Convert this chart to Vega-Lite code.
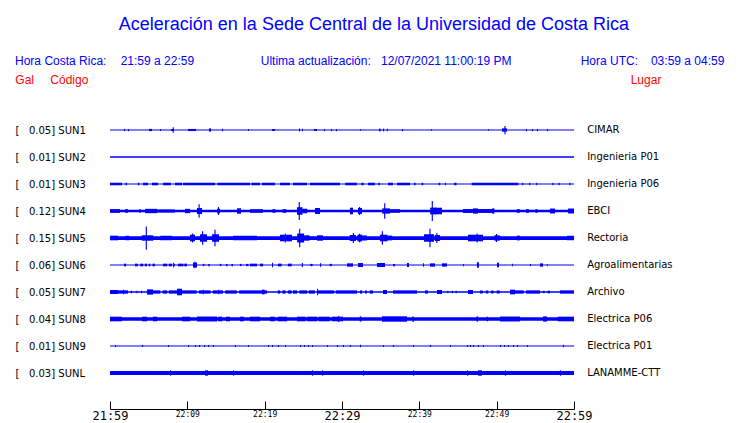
{
"$schema": "https://vega.github.io/schema/vega-lite/v6.json",
"width": 464, "height": 270,
"autosize": "none",
"padding": {"left": 110, "top": 116.5, "right": 166, "bottom": 36.5},
"background": "white",
"config": {"view": {"stroke": null}, "font": "DejaVu Sans"},
"datasets": {
"st": [
{"s":"SUN1","place":"CIMAR"},{"s":"SUN2","place":"Ingenieria P01"},{"s":"SUN3","place":"Ingenieria P06"},{"s":"SUN4","place":"EBCI"},{"s":"SUN5","place":"Rectoria"},{"s":"SUN6","place":"Agroalimentarias"},{"s":"SUN7","place":"Archivo"},{"s":"SUN8","place":"Electrica P06"},{"s":"SUN9","place":"Electrica P01"},{"s":"SUNL","place":"LANAMME-CTT"}
],
"sig": [
{"s":"SUN1","t0":0,"t1":60,"a":0.67},{"s":"SUN1","t0":1.81,"t1":1.95,"a":1.5},{"s":"SUN1","t0":2.33,"t1":2.46,"a":1.5},{"s":"SUN1","t0":5.04,"t1":5.43,"a":1.5},{"s":"SUN1","t0":6.47,"t1":6.6,"a":1.2},{"s":"SUN1","t0":7.89,"t1":8.28,"a":1.3},{"s":"SUN1","t0":8.1,"t1":8.25,"a":3.6},{"s":"SUN1","t0":10.09,"t1":11.12,"a":1.4},{"s":"SUN1","t0":12.8,"t1":13.06,"a":2.2},{"s":"SUN1","t0":14.48,"t1":14.61,"a":1.8},{"s":"SUN1","t0":17.84,"t1":17.97,"a":1.3},{"s":"SUN1","t0":20.95,"t1":21.33,"a":1.3},{"s":"SUN1","t0":24.44,"t1":24.57,"a":2.0},{"s":"SUN1","t0":24.83,"t1":24.95,"a":1.8},{"s":"SUN1","t0":26.38,"t1":26.77,"a":1.3},{"s":"SUN1","t0":27.67,"t1":27.8,"a":1.5},{"s":"SUN1","t0":28.58,"t1":28.71,"a":1.5},{"s":"SUN1","t0":29.22,"t1":29.35,"a":1.5},{"s":"SUN1","t0":32.33,"t1":32.46,"a":1.0},{"s":"SUN1","t0":34.78,"t1":35.0,"a":1.8},{"s":"SUN1","t0":35.3,"t1":35.45,"a":1.8},{"s":"SUN1","t0":35.8,"t1":35.94,"a":1.8},{"s":"SUN1","t0":37.76,"t1":37.89,"a":1.5},{"s":"SUN1","t0":41.51,"t1":41.64,"a":1.0},{"s":"SUN1","t0":48.88,"t1":49.0,"a":1.0},{"s":"SUN1","t0":50.69,"t1":51.33,"a":2.2},{"s":"SUN1","t0":51.0,"t1":51.15,"a":5.5},{"s":"SUN1","t0":53.79,"t1":53.92,"a":1.5},{"s":"SUN1","t0":54.57,"t1":54.7,"a":1.5},{"s":"SUN1","t0":55.21,"t1":55.34,"a":1.5},{"s":"SUN1","t0":56.5,"t1":56.63,"a":1.5},
{"s":"SUN2","t0":0,"t1":60,"a":0.87},
{"s":"SUN3","t0":0,"t1":60,"a":0.67},{"s":"SUN3","t0":0,"t1":1.55,"a":1.7},{"s":"SUN3","t0":2.0,"t1":2.2,"a":1.7},{"s":"SUN3","t0":3.6,"t1":3.8,"a":1.7},{"s":"SUN3","t0":4.27,"t1":4.91,"a":1.7},{"s":"SUN3","t0":5.43,"t1":6.21,"a":1.7},{"s":"SUN3","t0":6.85,"t1":7.89,"a":1.7},{"s":"SUN3","t0":8.4,"t1":9.31,"a":1.7},{"s":"SUN3","t0":9.44,"t1":13.6,"a":1.7},{"s":"SUN3","t0":13.9,"t1":18.1,"a":1.7},{"s":"SUN3","t0":18.3,"t1":19.4,"a":1.7},{"s":"SUN3","t0":19.65,"t1":21.33,"a":1.7},{"s":"SUN3","t0":21.98,"t1":23.27,"a":1.7},{"s":"SUN3","t0":23.66,"t1":25.47,"a":1.7},{"s":"SUN3","t0":25.86,"t1":29.74,"a":1.7},{"s":"SUN3","t0":30.4,"t1":31.94,"a":1.7},{"s":"SUN3","t0":32.5,"t1":32.8,"a":1.7},{"s":"SUN3","t0":33.36,"t1":34.26,"a":1.7},{"s":"SUN3","t0":34.7,"t1":34.9,"a":1.7},{"s":"SUN3","t0":35.94,"t1":36.59,"a":1.7},{"s":"SUN3","t0":37.11,"t1":38.79,"a":1.7},{"s":"SUN3","t0":39.3,"t1":39.5,"a":1.7},{"s":"SUN3","t0":40.3,"t1":40.5,"a":1.7},{"s":"SUN3","t0":42.5,"t1":42.7,"a":1.7},{"s":"SUN3","t0":43.3,"t1":43.45,"a":1.7},{"s":"SUN3","t0":44.5,"t1":44.8,"a":1.7},{"s":"SUN3","t0":46.77,"t1":52.8,"a":1.7},{"s":"SUN3","t0":53.3,"t1":53.45,"a":1.7},{"s":"SUN3","t0":54.2,"t1":54.35,"a":1.7},{"s":"SUN3","t0":55.1,"t1":55.25,"a":1.7},{"s":"SUN3","t0":57.2,"t1":57.35,"a":1.7},{"s":"SUN3","t0":58.0,"t1":58.15,"a":1.7},{"s":"SUN3","t0":59.4,"t1":59.55,"a":1.7},
{"s":"SUN4","t0":0,"t1":60,"a":1.8},{"s":"SUN4","t0":0,"t1":1.29,"a":2.5},{"s":"SUN4","t0":1.94,"t1":2.33,"a":2.4},{"s":"SUN4","t0":3.75,"t1":4.0,"a":2.4},{"s":"SUN4","t0":4.53,"t1":6.08,"a":2.9},{"s":"SUN4","t0":6.08,"t1":8.4,"a":2.1},{"s":"SUN4","t0":9.7,"t1":10.34,"a":2.9},{"s":"SUN4","t0":11.25,"t1":11.9,"a":4},{"s":"SUN4","t0":11.45,"t1":11.6,"a":8.9},{"s":"SUN4","t0":13.84,"t1":14.22,"a":3},{"s":"SUN4","t0":13.95,"t1":14.1,"a":5.3},{"s":"SUN4","t0":16.42,"t1":16.94,"a":3.6},{"s":"SUN4","t0":18.1,"t1":19.78,"a":2.4},{"s":"SUN4","t0":21.0,"t1":21.4,"a":2.4},{"s":"SUN4","t0":22.3,"t1":22.8,"a":2.4},{"s":"SUN4","t0":24.18,"t1":24.9,"a":5},{"s":"SUN4","t0":24.4,"t1":24.55,"a":12},{"s":"SUN4","t0":24.9,"t1":25.5,"a":3},{"s":"SUN4","t0":26.51,"t1":27.15,"a":4},{"s":"SUN4","t0":31.03,"t1":31.42,"a":4.4},{"s":"SUN4","t0":32.07,"t1":32.58,"a":4},{"s":"SUN4","t0":32.2,"t1":32.35,"a":5.3},{"s":"SUN4","t0":35.2,"t1":36.2,"a":3.5},{"s":"SUN4","t0":35.45,"t1":35.6,"a":10.3},{"s":"SUN4","t0":36.2,"t1":37.5,"a":2.4},{"s":"SUN4","t0":41.4,"t1":42.2,"a":4.5},{"s":"SUN4","t0":41.6,"t1":41.75,"a":13.3},{"s":"SUN4","t0":42.02,"t1":42.93,"a":4.4},{"s":"SUN4","t0":45.64,"t1":49.52,"a":2.6},{"s":"SUN4","t0":46.94,"t1":47.58,"a":3.5},{"s":"SUN4","t0":49.4,"t1":49.7,"a":3.5},{"s":"SUN4","t0":52.6,"t1":53.0,"a":2.4},{"s":"SUN4","t0":53.8,"t1":54.2,"a":2.4},{"s":"SUN4","t0":55.0,"t1":55.3,"a":2.4},{"s":"SUN4","t0":56.89,"t1":57.54,"a":3.3},{"s":"SUN4","t0":59.22,"t1":60,"a":3.3},
{"s":"SUN5","t0":0,"t1":60,"a":2.5},{"s":"SUN5","t0":0,"t1":1.03,"a":3.1},{"s":"SUN5","t0":2.0,"t1":2.5,"a":3},{"s":"SUN5","t0":4.1,"t1":5.6,"a":3.6},{"s":"SUN5","t0":4.62,"t1":4.77,"a":15.5},{"s":"SUN5","t0":6.5,"t1":8.0,"a":3},{"s":"SUN5","t0":10.34,"t1":10.99,"a":4.4},{"s":"SUN5","t0":10.6,"t1":10.75,"a":6},{"s":"SUN5","t0":11.64,"t1":12.54,"a":5},{"s":"SUN5","t0":11.9,"t1":12.05,"a":8.9},{"s":"SUN5","t0":13.2,"t1":14.1,"a":5},{"s":"SUN5","t0":13.5,"t1":13.65,"a":11},{"s":"SUN5","t0":15.9,"t1":18.1,"a":3},{"s":"SUN5","t0":18.1,"t1":19.0,"a":3},{"s":"SUN5","t0":21.98,"t1":23.53,"a":4.4},{"s":"SUN5","t0":22.6,"t1":22.75,"a":6},{"s":"SUN5","t0":24.2,"t1":25.1,"a":6},{"s":"SUN5","t0":24.45,"t1":24.6,"a":12.4},{"s":"SUN5","t0":25.1,"t1":25.8,"a":3.6},{"s":"SUN5","t0":26.77,"t1":27.54,"a":3.6},{"s":"SUN5","t0":31.0,"t1":31.8,"a":4},{"s":"SUN5","t0":31.4,"t1":31.55,"a":6.7},{"s":"SUN5","t0":32.0,"t1":32.6,"a":4.5},{"s":"SUN5","t0":32.2,"t1":32.35,"a":5.8},{"s":"SUN5","t0":32.6,"t1":33.2,"a":3.4},{"s":"SUN5","t0":34.9,"t1":35.9,"a":4.4},{"s":"SUN5","t0":35.15,"t1":35.3,"a":8.9},{"s":"SUN5","t0":35.9,"t1":36.5,"a":3.2},{"s":"SUN5","t0":40.6,"t1":41.9,"a":5},{"s":"SUN5","t0":41.3,"t1":41.45,"a":12.4},{"s":"SUN5","t0":42.0,"t1":42.67,"a":4},{"s":"SUN5","t0":42.2,"t1":42.35,"a":6.7},{"s":"SUN5","t0":46.29,"t1":48.23,"a":4.4},{"s":"SUN5","t0":47.4,"t1":47.55,"a":6},{"s":"SUN5","t0":49.7,"t1":50.4,"a":3.6},{"s":"SUN5","t0":49.9,"t1":50.05,"a":5.3},{"s":"SUN5","t0":52.6,"t1":53.0,"a":3.2},{"s":"SUN5","t0":59.1,"t1":60,"a":3},
{"s":"SUN6","t0":0,"t1":60,"a":0.67},{"s":"SUN6","t0":1.81,"t1":2.07,"a":1.8},{"s":"SUN6","t0":3.23,"t1":3.6,"a":1.8},{"s":"SUN6","t0":3.9,"t1":4.3,"a":1.8},{"s":"SUN6","t0":4.5,"t1":4.78,"a":1.8},{"s":"SUN6","t0":5.0,"t1":5.2,"a":1.8},{"s":"SUN6","t0":5.5,"t1":5.8,"a":1.8},{"s":"SUN6","t0":6.85,"t1":7.4,"a":1.8},{"s":"SUN6","t0":7.6,"t1":8.0,"a":1.8},{"s":"SUN6","t0":8.15,"t1":8.28,"a":3.1},{"s":"SUN6","t0":8.28,"t1":8.4,"a":1.8},{"s":"SUN6","t0":8.79,"t1":9.5,"a":1.8},{"s":"SUN6","t0":9.6,"t1":9.96,"a":1.8},{"s":"SUN6","t0":10.73,"t1":11.25,"a":3.3},{"s":"SUN6","t0":10.9,"t1":11.05,"a":4.4},{"s":"SUN6","t0":12.0,"t1":12.2,"a":1.5},{"s":"SUN6","t0":12.7,"t1":12.9,"a":1.5},{"s":"SUN6","t0":14.2,"t1":14.4,"a":1.5},{"s":"SUN6","t0":15.0,"t1":15.2,"a":1.5},{"s":"SUN6","t0":15.7,"t1":15.9,"a":1.5},{"s":"SUN6","t0":16.8,"t1":17.0,"a":1.5},{"s":"SUN6","t0":17.6,"t1":17.9,"a":1.5},{"s":"SUN6","t0":18.1,"t1":19.0,"a":1.8},{"s":"SUN6","t0":19.4,"t1":19.8,"a":1.8},{"s":"SUN6","t0":20.95,"t1":21.08,"a":3.1},{"s":"SUN6","t0":21.7,"t1":22.2,"a":1.8},{"s":"SUN6","t0":23.0,"t1":23.5,"a":1.8},{"s":"SUN6","t0":24.8,"t1":24.95,"a":2.7},{"s":"SUN6","t0":25.9,"t1":26.2,"a":1.5},{"s":"SUN6","t0":27.15,"t1":27.3,"a":2.4},{"s":"SUN6","t0":28.4,"t1":28.7,"a":1.5},{"s":"SUN6","t0":30.65,"t1":31.42,"a":2.2},{"s":"SUN6","t0":32.07,"t1":32.71,"a":2.7},{"s":"SUN6","t0":34.52,"t1":35.56,"a":2.7},{"s":"SUN6","t0":36.6,"t1":36.85,"a":1.5},{"s":"SUN6","t0":38.4,"t1":38.66,"a":2.7},{"s":"SUN6","t0":40.47,"t1":40.6,"a":2.2},{"s":"SUN6","t0":41.38,"t1":42.02,"a":2.2},{"s":"SUN6","t0":42.93,"t1":43.57,"a":2.2},{"s":"SUN6","t0":45.64,"t1":45.77,"a":1.5},{"s":"SUN6","t0":47.45,"t1":47.71,"a":3.6},{"s":"SUN6","t0":50.04,"t1":50.3,"a":3.1},{"s":"SUN6","t0":51.98,"t1":52.1,"a":1.8},{"s":"SUN6","t0":54.31,"t1":54.44,"a":1.5},{"s":"SUN6","t0":55.6,"t1":55.99,"a":2.2},{"s":"SUN6","t0":56.5,"t1":56.6,"a":1.5},
{"s":"SUN7","t0":0,"t1":60,"a":0.87},{"s":"SUN7","t0":0,"t1":1.03,"a":2.7},{"s":"SUN7","t0":1.03,"t1":2.33,"a":2.2},{"s":"SUN7","t0":1.7,"t1":1.83,"a":3},{"s":"SUN7","t0":2.7,"t1":2.85,"a":1.8},{"s":"SUN7","t0":3.4,"t1":3.55,"a":1.8},{"s":"SUN7","t0":4.0,"t1":4.15,"a":1.8},{"s":"SUN7","t0":4.78,"t1":5.56,"a":3.5},{"s":"SUN7","t0":5.56,"t1":6.5,"a":2.2},{"s":"SUN7","t0":6.8,"t1":7.4,"a":2.2},{"s":"SUN7","t0":7.6,"t1":8.66,"a":2.2},{"s":"SUN7","t0":8.66,"t1":9.31,"a":4.4},{"s":"SUN7","t0":9.31,"t1":11.2,"a":2.2},{"s":"SUN7","t0":11.5,"t1":13.0,"a":2.2},{"s":"SUN7","t0":12.0,"t1":12.13,"a":3},{"s":"SUN7","t0":13.3,"t1":14.6,"a":2.2},{"s":"SUN7","t0":14.0,"t1":14.13,"a":3},{"s":"SUN7","t0":14.9,"t1":16.4,"a":2.2},{"s":"SUN7","t0":16.7,"t1":18.1,"a":2.2},{"s":"SUN7","t0":18.1,"t1":20.3,"a":2.2},{"s":"SUN7","t0":19.65,"t1":20.0,"a":3.1},{"s":"SUN7","t0":21.7,"t1":22.0,"a":2.2},{"s":"SUN7","t0":22.3,"t1":22.7,"a":2.2},{"s":"SUN7","t0":23.0,"t1":23.5,"a":2.2},{"s":"SUN7","t0":23.66,"t1":24.2,"a":2.2},{"s":"SUN7","t0":24.5,"t1":25.5,"a":2.2},{"s":"SUN7","t0":25.7,"t1":26.5,"a":2.2},{"s":"SUN7","t0":26.77,"t1":26.9,"a":4.4},{"s":"SUN7","t0":26.9,"t1":29.0,"a":2.2},{"s":"SUN7","t0":29.2,"t1":31.94,"a":2.2},{"s":"SUN7","t0":32.33,"t1":32.6,"a":2.2},{"s":"SUN7","t0":33.0,"t1":33.2,"a":2.2},{"s":"SUN7","t0":33.6,"t1":34.0,"a":2.2},{"s":"SUN7","t0":35.3,"t1":35.82,"a":2.7},{"s":"SUN7","t0":36.59,"t1":39.7,"a":2.2},{"s":"SUN7","t0":40.73,"t1":41.1,"a":2.2},{"s":"SUN7","t0":42.28,"t1":42.93,"a":2.7},{"s":"SUN7","t0":43.6,"t1":43.75,"a":1.8},{"s":"SUN7","t0":44.2,"t1":44.35,"a":1.8},{"s":"SUN7","t0":44.7,"t1":44.85,"a":1.8},{"s":"SUN7","t0":46.29,"t1":46.94,"a":2.7},{"s":"SUN7","t0":47.84,"t1":48.2,"a":2.0},{"s":"SUN7","t0":48.6,"t1":48.9,"a":2.0},{"s":"SUN7","t0":49.3,"t1":49.6,"a":2.0},{"s":"SUN7","t0":50.0,"t1":50.4,"a":2.0},{"s":"SUN7","t0":51.72,"t1":52.37,"a":3.1},{"s":"SUN7","t0":52.37,"t1":53.5,"a":2.2},{"s":"SUN7","t0":53.8,"t1":55.6,"a":2.2},{"s":"SUN7","t0":56.0,"t1":56.2,"a":1.8},{"s":"SUN7","t0":56.6,"t1":56.9,"a":1.8},{"s":"SUN7","t0":58.18,"t1":60,"a":2.2},
{"s":"SUN8","t0":0,"t1":60,"a":2.2},{"s":"SUN8","t0":0,"t1":1.55,"a":3.1},{"s":"SUN8","t0":4.14,"t1":4.78,"a":3.1},{"s":"SUN8","t0":5.56,"t1":6.08,"a":3.1},{"s":"SUN8","t0":9.31,"t1":10.34,"a":3.1},{"s":"SUN8","t0":11.25,"t1":13.84,"a":3.3},{"s":"SUN8","t0":14.0,"t1":14.5,"a":3.1},{"s":"SUN8","t0":15.0,"t1":15.5,"a":3.1},{"s":"SUN8","t0":16.8,"t1":17.3,"a":3.1},{"s":"SUN8","t0":18.1,"t1":19.4,"a":3.1},{"s":"SUN8","t0":20.7,"t1":21.3,"a":3.1},{"s":"SUN8","t0":21.7,"t1":22.9,"a":3.1},{"s":"SUN8","t0":24.18,"t1":25.3,"a":3.1},{"s":"SUN8","t0":25.5,"t1":26.8,"a":3.1},{"s":"SUN8","t0":27.0,"t1":28.4,"a":3.1},{"s":"SUN8","t0":28.7,"t1":30.13,"a":3.1},{"s":"SUN8","t0":29.5,"t1":29.63,"a":4},{"s":"SUN8","t0":32.3,"t1":32.5,"a":3.5},{"s":"SUN8","t0":35.17,"t1":38.4,"a":3.6},{"s":"SUN8","t0":39.1,"t1":39.3,"a":3.5},{"s":"SUN8","t0":47.4,"t1":47.6,"a":3.5},{"s":"SUN8","t0":48.7,"t1":48.9,"a":3.1},{"s":"SUN8","t0":50.43,"t1":53.01,"a":3.3},{"s":"SUN8","t0":56.0,"t1":56.5,"a":3.5},{"s":"SUN8","t0":57.9,"t1":60,"a":3.1},
{"s":"SUN9","t0":0,"t1":60,"a":0.67},{"s":"SUN9","t0":0.65,"t1":0.78,"a":1.3},{"s":"SUN9","t0":4.14,"t1":4.27,"a":1.3},{"s":"SUN9","t0":7.5,"t1":7.63,"a":1.3},{"s":"SUN9","t0":10.09,"t1":10.22,"a":1.3},{"s":"SUN9","t0":10.99,"t1":11.12,"a":1.3},{"s":"SUN9","t0":11.51,"t1":11.64,"a":1.3},{"s":"SUN9","t0":12.16,"t1":12.29,"a":1.3},{"s":"SUN9","t0":12.67,"t1":12.8,"a":1.3},{"s":"SUN9","t0":13.32,"t1":13.45,"a":1.3},{"s":"SUN9","t0":16.16,"t1":16.29,"a":1.3},{"s":"SUN9","t0":17.84,"t1":17.97,"a":1.3},{"s":"SUN9","t0":20.43,"t1":20.56,"a":1.3},{"s":"SUN9","t0":20.95,"t1":21.08,"a":1.3},{"s":"SUN9","t0":21.72,"t1":21.85,"a":1.3},{"s":"SUN9","t0":22.63,"t1":22.76,"a":1.3},{"s":"SUN9","t0":24.57,"t1":24.7,"a":1.3},{"s":"SUN9","t0":25.09,"t1":25.22,"a":1.3},{"s":"SUN9","t0":25.6,"t1":25.73,"a":1.3},{"s":"SUN9","t0":26.12,"t1":26.25,"a":1.3},{"s":"SUN9","t0":28.06,"t1":28.19,"a":1.3},{"s":"SUN9","t0":29.35,"t1":29.48,"a":1.3},{"s":"SUN9","t0":30.13,"t1":30.26,"a":1.3},{"s":"SUN9","t0":31.03,"t1":31.16,"a":1.3},{"s":"SUN9","t0":32.33,"t1":32.46,"a":1.8},{"s":"SUN9","t0":35.3,"t1":35.43,"a":1.3},{"s":"SUN9","t0":36.59,"t1":36.72,"a":1.3},{"s":"SUN9","t0":39.18,"t1":39.31,"a":1.3},{"s":"SUN9","t0":41.38,"t1":41.51,"a":1.3},{"s":"SUN9","t0":43.97,"t1":44.1,"a":1.3},{"s":"SUN9","t0":46.16,"t1":46.29,"a":1.3},{"s":"SUN9","t0":46.55,"t1":46.68,"a":1.3},{"s":"SUN9","t0":46.94,"t1":47.07,"a":1.3},{"s":"SUN9","t0":47.58,"t1":47.71,"a":1.3},{"s":"SUN9","t0":48.23,"t1":48.36,"a":1.3},{"s":"SUN9","t0":50.43,"t1":50.56,"a":1.3},{"s":"SUN9","t0":50.95,"t1":51.08,"a":1.3},{"s":"SUN9","t0":51.46,"t1":51.59,"a":1.3},{"s":"SUN9","t0":52.11,"t1":52.24,"a":1.3},{"s":"SUN9","t0":52.63,"t1":52.76,"a":1.3},{"s":"SUN9","t0":53.92,"t1":54.05,"a":1.3},{"s":"SUN9","t0":58.57,"t1":58.7,"a":1.8},
{"s":"SUNL","t0":0,"t1":60,"a":2.67},{"s":"SUNL","t0":7.76,"t1":7.9,"a":3.6},{"s":"SUNL","t0":12.28,"t1":12.67,"a":3.6},{"s":"SUNL","t0":15.9,"t1":16.05,"a":3.6},{"s":"SUNL","t0":26.12,"t1":26.27,"a":3.6},{"s":"SUNL","t0":27.41,"t1":27.56,"a":3.6},{"s":"SUNL","t0":32.71,"t1":32.86,"a":3.6},{"s":"SUNL","t0":39.18,"t1":39.33,"a":3.6},{"s":"SUNL","t0":46.16,"t1":46.31,"a":3.6},{"s":"SUNL","t0":47.58,"t1":48.1,"a":3.6},{"s":"SUNL","t0":51.07,"t1":51.22,"a":3.6},{"s":"SUNL","t0":58.18,"t1":58.33,"a":3.6}
]
},
"resolve": {"scale": {"y": "independent"}},
"layer": [
{
"data": {"name": "sig"},
"mark": {"type": "rule", "color": "#0000ff"},
"encoding": {
"x": {"field": "t0", "type": "quantitative", "scale": {"domain": [0, 60], "nice": false, "zero": false},
"axis": {"title": null, "values": [0,5,10,15,20,25,30,35,40,45,50,55,60], "offset": 22.5, "tickSize": -8, "labelPadding": 9.5, "grid": false, "domainColor": "#000000", "tickColor": "#000000", "labelColor": "#000000", "labelFont": "DejaVu Sans Mono", "labelFontSize": {"condition": {"test": "datum.value % 30 === 0", "value": 12}, "value": 8}, "labelOverlap": false, "labelFlush": false, "labelBound": false,
"labelExpr": "datum.value % 10 ? '' : ['21:59','22:09','22:19','22:29','22:39','22:49','22:59'][datum.value / 10]"}},
"x2": {"field": "t1"},
"y": {"field": "s", "type": "ordinal", "scale": {"type": "point", "padding": 0.5, "domain": ["SUN1","SUN2","SUN3","SUN4","SUN5","SUN6","SUN7","SUN8","SUN9","SUNL"]},
"axis": {"title": null, "domain": false, "ticks": false, "tickSize": 0, "grid": false, "labelPadding": 95, "labelAlign": "left", "labelBaseline": "middle", "labelFont": "DejaVu Sans", "labelFontSize": 10, "labelColor": "#000000",
"labelExpr": "{'SUN1':'[\u00a0\u00a0\u00a00.05] SUN1','SUN2':'[\u00a0\u00a0\u00a00.01] SUN2','SUN3':'[\u00a0\u00a0\u00a00.01] SUN3','SUN4':'[\u00a0\u00a0\u00a00.12] SUN4','SUN5':'[\u00a0\u00a0\u00a00.15] SUN5','SUN6':'[\u00a0\u00a0\u00a00.06] SUN6','SUN7':'[\u00a0\u00a0\u00a00.05] SUN7','SUN8':'[\u00a0\u00a0\u00a00.04] SUN8','SUN9':'[\u00a0\u00a0\u00a00.01] SUN9','SUNL':'[\u00a0\u00a0\u00a00.03] SUNL'}[datum.value]"}},
"strokeWidth": {"field": "a", "type": "quantitative", "scale": {"type": "linear", "domain": [0, 18], "range": [0, 27]}, "legend": null}
}
},
{
"data": {"name": "st"},
"mark": {"type": "text", "align": "left", "baseline": "middle", "font": "DejaVu Sans", "fontSize": 10, "color": "#000000", "clip": false},
"encoding": {
"x": {"datum": 61.7, "type": "quantitative", "scale": {"domain": [0, 60], "nice": false, "zero": false}},
"y": {"field": "s", "type": "ordinal", "scale": {"type": "point", "padding": 0.5, "domain": ["SUN1","SUN2","SUN3","SUN4","SUN5","SUN6","SUN7","SUN8","SUN9","SUNL"]}, "axis": null},
"text": {"field": "place"}
}
},
{
"data": {"values": [{"label": "Aceleración en la Sede Central de la Universidad de Costa Rica"}]},
"mark": {"type": "text", "align": "center", "baseline": "alphabetic", "font": "Liberation Sans", "fontSize": 18, "color": "#0000ff", "clip": false},
"encoding": {"x": {"datum": 34.13, "type": "quantitative"}, "y": {"datum": 13.2, "type": "quantitative", "scale": {"domain": [0, 10], "nice": false}, "axis": null}, "text": {"field": "label"}}
},
{
"data": {"values": [{"label": "Hora Costa Rica:"}]},
"mark": {"type": "text", "align": "left", "baseline": "alphabetic", "font": "Liberation Sans", "fontSize": 12, "color": "#0000ff", "clip": false},
"encoding": {"x": {"datum": -12.28, "type": "quantitative"}, "y": {"datum": 11.9, "type": "quantitative", "scale": {"domain": [0, 10], "nice": false}, "axis": null}, "text": {"field": "label"}}
},
{
"data": {"values": [{"label": "21:59 a 22:59"}]},
"mark": {"type": "text", "align": "left", "baseline": "alphabetic", "font": "Liberation Sans", "fontSize": 12, "color": "#0000ff", "clip": false},
"encoding": {"x": {"datum": 1.38, "type": "quantitative"}, "y": {"datum": 11.9, "type": "quantitative", "scale": {"domain": [0, 10], "nice": false}, "axis": null}, "text": {"field": "label"}}
},
{
"data": {"values": [{"label": "Ultima actualización:"}]},
"mark": {"type": "text", "align": "left", "baseline": "alphabetic", "font": "Liberation Sans", "fontSize": 12, "color": "#0000ff", "clip": false},
"encoding": {"x": {"datum": 19.49, "type": "quantitative"}, "y": {"datum": 11.9, "type": "quantitative", "scale": {"domain": [0, 10], "nice": false}, "axis": null}, "text": {"field": "label"}}
},
{
"data": {"values": [{"label": "12/07/2021 11:00:19 PM"}]},
"mark": {"type": "text", "align": "left", "baseline": "alphabetic", "font": "Liberation Sans", "fontSize": 12, "color": "#0000ff", "clip": false},
"encoding": {"x": {"datum": 35.04, "type": "quantitative"}, "y": {"datum": 11.9, "type": "quantitative", "scale": {"domain": [0, 10], "nice": false}, "axis": null}, "text": {"field": "label"}}
},
{
"data": {"values": [{"label": "Hora UTC:"}]},
"mark": {"type": "text", "align": "left", "baseline": "alphabetic", "font": "Liberation Sans", "fontSize": 12, "color": "#0000ff", "clip": false},
"encoding": {"x": {"datum": 60.86, "type": "quantitative"}, "y": {"datum": 11.9, "type": "quantitative", "scale": {"domain": [0, 10], "nice": false}, "axis": null}, "text": {"field": "label"}}
},
{
"data": {"values": [{"label": "03:59 a 04:59"}]},
"mark": {"type": "text", "align": "left", "baseline": "alphabetic", "font": "Liberation Sans", "fontSize": 12, "color": "#0000ff", "clip": false},
"encoding": {"x": {"datum": 69.95, "type": "quantitative"}, "y": {"datum": 11.9, "type": "quantitative", "scale": {"domain": [0, 10], "nice": false}, "axis": null}, "text": {"field": "label"}}
},
{
"data": {"values": [{"label": "Gal"}]},
"mark": {"type": "text", "align": "left", "baseline": "alphabetic", "font": "Liberation Sans", "fontSize": 12, "color": "#ff0000", "clip": false},
"encoding": {"x": {"datum": -12.24, "type": "quantitative"}, "y": {"datum": 11.19, "type": "quantitative", "scale": {"domain": [0, 10], "nice": false}, "axis": null}, "text": {"field": "label"}}
},
{
"data": {"values": [{"label": "Código"}]},
"mark": {"type": "text", "align": "left", "baseline": "alphabetic", "font": "Liberation Sans", "fontSize": 12, "color": "#ff0000", "clip": false},
"encoding": {"x": {"datum": -7.72, "type": "quantitative"}, "y": {"datum": 11.19, "type": "quantitative", "scale": {"domain": [0, 10], "nice": false}, "axis": null}, "text": {"field": "label"}}
},
{
"data": {"values": [{"label": "Lugar"}]},
"mark": {"type": "text", "align": "left", "baseline": "alphabetic", "font": "Liberation Sans", "fontSize": 12, "color": "#ff0000", "clip": false},
"encoding": {"x": {"datum": 67.33, "type": "quantitative"}, "y": {"datum": 11.19, "type": "quantitative", "scale": {"domain": [0, 10], "nice": false}, "axis": null}, "text": {"field": "label"}}
}
]
}
